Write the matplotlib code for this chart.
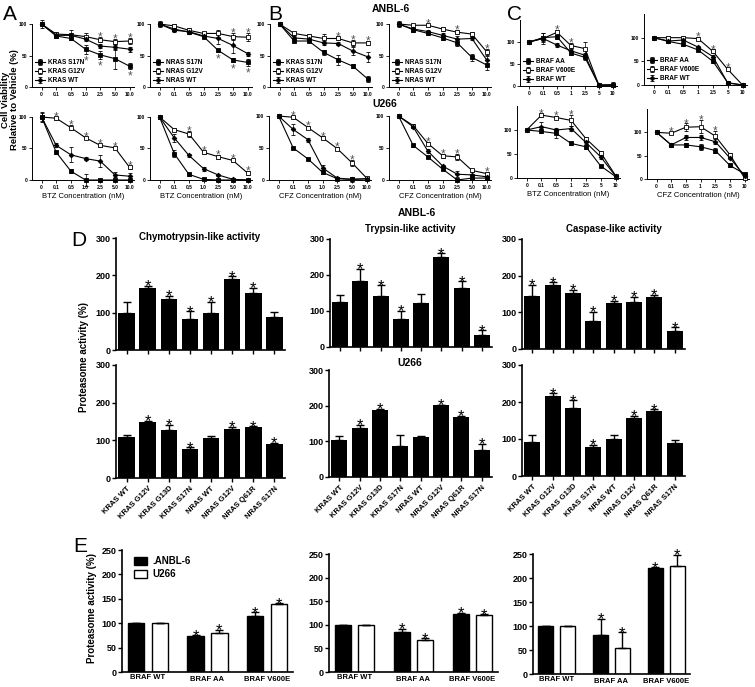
import matplotlib
matplotlib.use('Agg')
import matplotlib.pyplot as plt

plt.rcParams['font.family'] = ['Liberation Sans', 'DejaVu Sans']
plt.rcParams['font.weight'] = 'bold'

# ---- line plot data (cell viability, % of vehicle) ----
ras_conc = ['0', '0.1', '0.5', '1.0', '2.5', '5.0', '10.0']
braf_conc = ['0', '0.1', '0.5', '1', '2.5', '5', '10']
kras_names = ['KRAS S17N', 'KRAS G12V', 'KRAS WT']
nras_names = ['NRAS S17N', 'NRAS G12V', 'NRAS WT']
braf_names = ['BRAF AA', 'BRAF V600E', 'BRAF WT']

# ANBL-6, BTZ, KRAS
a_k_s17n = [100, 81, 77, 60, 51, 45, 33]
a_k_g12v = [100, 84, 83, 80, 75, 72, 73]
a_k_wt = [100, 82, 82, 76, 65, 63, 60]
a_k_s17n_err = [6, 3, 3, 7, 6, 16, 5]
a_k_g12v_err = [3, 4, 8, 5, 4, 4, 5]
a_k_wt_err = [3, 3, 3, 3, 3, 4, 4]
# ANBL-6, BTZ, NRAS
a_n_s17n = [100, 92, 87, 80, 58, 43, 39]
a_n_g12v = [100, 97, 90, 85, 85, 80, 79]
a_n_wt = [100, 90, 88, 81, 77, 66, 53]
a_n_s17n_err = [3, 3, 3, 3, 2, 3, 6]
a_n_g12v_err = [4, 3, 3, 3, 5, 5, 6]
a_n_wt_err = [3, 3, 3, 4, 8, 12, 3]
# ANBL-6, CFZ, KRAS
b_k_s17n = [100, 73, 73, 55, 43, 33, 13]
b_k_g12v = [100, 85, 81, 77, 77, 70, 70]
b_k_wt = [100, 78, 76, 70, 69, 57, 48]
b_k_s17n_err = [2, 2, 2, 4, 8, 3, 5]
b_k_g12v_err = [3, 3, 3, 7, 3, 5, 3]
b_k_wt_err = [3, 3, 3, 3, 3, 6, 8]
# ANBL-6, CFZ, NRAS
b_n_s17n = [100, 91, 85, 78, 70, 47, 35]
b_n_g12v = [100, 98, 98, 92, 87, 84, 56]
b_n_wt = [100, 92, 88, 82, 76, 77, 43]
b_n_s17n_err = [4, 3, 3, 3, 5, 5, 8]
b_n_g12v_err = [2, 2, 2, 3, 3, 3, 5]
b_n_wt_err = [3, 3, 3, 4, 5, 3, 6]
# ANBL-6, BTZ / CFZ, BRAF
c_bt_aa = [100, 110, 112, 75, 65, 2, 2]
c_bt_v600e = [100, 108, 122, 92, 85, 2, 2]
c_bt_wt = [100, 108, 93, 80, 70, 2, 3]
c_bt_aa_err = [2, 10, 5, 5, 5, 2, 3]
c_bt_v600e_err = [2, 12, 5, 5, 15, 2, 2]
c_bt_wt_err = [2, 5, 5, 4, 5, 2, 6]
c_cf_aa = [100, 92, 86, 74, 50, 5, 0]
c_cf_v600e = [100, 100, 100, 98, 71, 33, 0]
c_cf_wt = [100, 93, 95, 80, 60, 4, 0]
c_cf_aa_err = [2, 3, 3, 3, 4, 3, 1]
c_cf_v600e_err = [2, 3, 3, 3, 4, 3, 1]
c_cf_wt_err = [2, 3, 3, 3, 4, 3, 1]

# U266, BTZ, KRAS
u_a_k_s17n = [100, 44, 14, 0, 0, 0, 0]
u_a_k_g12v = [100, 98, 83, 67, 55, 51, 20]
u_a_k_wt = [100, 55, 40, 34, 30, 8, 6]
u_a_k_s17n_err = [8, 2, 3, 9, 1, 1, 1]
u_a_k_g12v_err = [3, 2, 4, 2, 2, 2, 3]
u_a_k_wt_err = [6, 3, 12, 2, 9, 4, 5]
# U266, BTZ, NRAS
u_a_n_s17n = [100, 42, 9, 1, 0, 0, 0]
u_a_n_g12v = [100, 80, 73, 44, 37, 31, 11]
u_a_n_wt = [100, 67, 39, 18, 8, 1, 0]
u_a_n_s17n_err = [2, 5, 2, 1, 1, 1, 1]
u_a_n_g12v_err = [2, 2, 5, 2, 3, 2, 3]
u_a_n_wt_err = [2, 6, 2, 3, 1, 1, 1]
# U266, CFZ, KRAS
u_b_k_s17n = [100, 50, 33, 12, 2, 1, 2]
u_b_k_g12v = [100, 98, 82, 66, 49, 27, 3]
u_b_k_wt = [100, 79, 63, 19, 3, 1, 2]
u_b_k_s17n_err = [2, 2, 2, 3, 1, 4, 1]
u_b_k_g12v_err = [2, 2, 2, 2, 2, 5, 2]
u_b_k_wt_err = [2, 9, 3, 5, 2, 1, 1]
# U266, CFZ, NRAS
u_b_n_s17n = [100, 54, 36, 17, 0, 3, 3]
u_b_n_g12v = [100, 85, 57, 38, 36, 15, 10]
u_b_n_wt = [100, 83, 45, 22, 9, 8, 5]
u_b_n_s17n_err = [1, 2, 2, 2, 1, 1, 1]
u_b_n_g12v_err = [2, 2, 3, 3, 5, 2, 3]
u_b_n_wt_err = [2, 2, 3, 2, 5, 2, 2]
# U266, BTZ / CFZ, BRAF
u_c_bt_aa = [100, 97, 93, 72, 65, 25, 3]
u_c_bt_v600e = [100, 131, 126, 120, 82, 53, 5]
u_c_bt_wt = [100, 107, 100, 103, 74, 44, 4]
u_c_bt_aa_err = [2, 3, 10, 3, 4, 2, 1]
u_c_bt_v600e_err = [2, 3, 3, 12, 3, 3, 1]
u_c_bt_wt_err = [2, 10, 5, 5, 4, 4, 1]
u_c_cf_aa = [100, 73, 73, 69, 61, 29, 11]
u_c_cf_v600e = [100, 98, 111, 112, 92, 52, 2]
u_c_cf_wt = [100, 73, 89, 89, 80, 45, 7]
u_c_cf_aa_err = [1, 4, 4, 6, 6, 4, 1]
u_c_cf_v600e_err = [1, 2, 8, 14, 10, 3, 1]
u_c_cf_wt_err = [1, 4, 5, 5, 5, 3, 1]

# ---- proteasome activity bars (panel D) ----
ras_lines = ['KRAS WT', 'KRAS G12V', 'KRAS G13D', 'KRAS S17N',
             'NRAS WT', 'NRAS G12V', 'NRAS Q61R', 'NRAS S17N']
chymo_anbl = [100, 167, 136, 82, 98, 190, 154, 88]
chymo_anbl_err = [29, 5, 9, 22, 31, 7, 12, 14]
tryp_anbl = [125, 183, 141, 79, 123, 249, 165, 34]
tryp_anbl_err = [19, 35, 30, 21, 25, 11, 18, 12]
casp_anbl = [145, 175, 153, 76, 125, 129, 142, 48]
casp_anbl_err = [30, 7, 9, 26, 6, 14, 6, 11]
chymo_u266 = [110, 150, 127, 78, 105, 131, 135, 89]
chymo_u266_err = [4, 2, 14, 4, 7, 5, 2, 4]
tryp_u266 = [104, 137, 189, 88, 112, 201, 168, 77]
tryp_u266_err = [10, 9, 2, 30, 4, 2, 4, 16]
casp_u266 = [93, 217, 185, 78, 99, 158, 175, 88]
casp_u266_err = [19, 7, 20, 7, 12, 4, 5, 9]

# ---- panel E ----
braf_lines = ['BRAF WT', 'BRAF AA', 'BRAF V600E']
e_chymo_anbl = [100, 73, 115]
e_chymo_anbl_err = [0, 2, 7]
e_chymo_u266 = [100, 79, 139]
e_chymo_u266_err = [0, 7, 2]
e_tryp_anbl = [100, 84, 122]
e_tryp_anbl_err = [0, 8, 3]
e_tryp_u266 = [99, 68, 121]
e_tryp_u266_err = [0, 3, 1]
e_casp_anbl = [100, 82, 220]
e_casp_anbl_err = [0, 33, 2]
e_casp_u266 = [100, 55, 225]
e_casp_u266_err = [0, 32, 23]

W, H = 755, 687
fig = plt.figure(figsize=(W / 100, H / 100), dpi=100)


def add_ax(left, right, top, bottom):
    ax = fig.add_axes([left / W, 1 - bottom / H, (right - left) / W, (bottom - top) / H])
    ax.spines['top'].set_visible(False)
    ax.spines['right'].set_visible(False)
    return ax


def ftext(x, y, s, **kw):
    fig.text(x / W, 1 - y / H, s, **kw)


def line_panel(rect, series, names, ticks, ymax, up=(), down=(), xlabel=None, legend=False):
    ax = add_ax(*rect)
    x = list(range(len(ticks)))
    marks = [('s', 'black', 3.0), ('s', 'white', 3.0), ('D', 'black', 2.4)]
    for (vals, errs), nm, (m, fc, ms) in zip(series, names, marks):
        ax.errorbar(x, vals, yerr=errs, color='black', lw=0.8, marker=m, ms=ms,
                    mfc=fc, mec='black', mew=0.6, elinewidth=0.5, capsize=1.2,
                    capthick=0.5, label=nm, clip_on=False, zorder=3)
    for i in up:
        top = max(v[i] + e[i] for v, e in series)
        ax.annotate('*', (i, top), xytext=(0, -2.5), textcoords='offset points',
                    ha='center', va='baseline', fontsize=8.5, color='#555555',
                    fontweight='normal', annotation_clip=False)
    for i in down:
        v, e = series[0]
        ax.annotate('*', (i, v[i] - e[i]), xytext=(0, -7.5), textcoords='offset points',
                    ha='center', va='baseline', fontsize=8.5, color='#555555',
                    fontweight='normal', annotation_clip=False)
    ax.set_xlim(-0.65, 6.3)
    ax.set_ylim(0, ymax)
    ax.set_xticks(x)
    ax.set_xticklabels(ticks)
    ax.set_yticks([0, 50, 100])
    ax.tick_params(labelsize=3.5, length=2, width=0.6, pad=1.5)
    for s in ('left', 'bottom'):
        ax.spines[s].set_linewidth(0.7)
    if xlabel:
        ax.set_xlabel(xlabel, fontsize=5.5, labelpad=2)
    if legend:
        ax.legend(loc='lower left', bbox_to_anchor=(0.0, 0.0), frameon=False,
                  fontsize=4.7, handlelength=1.6, handletextpad=0.4,
                  labelspacing=0.3, borderpad=0.2, borderaxespad=0.2)
    return ax


def bar_panel(rect, vals, errs, stars, labels=False):
    ax = add_ax(*rect)
    x = list(range(len(vals)))
    ax.bar(x, vals, width=0.78, color='black',
           yerr=[[0] * len(vals), errs],
           error_kw=dict(ecolor='black', elinewidth=1, capsize=3, capthick=1))
    for i in stars:
        ax.annotate('*', (i, vals[i] + errs[i]), xytext=(0, -4), textcoords='offset points',
                    ha='center', va='baseline', fontsize=12, fontweight='normal')
    ax.set_xlim(-0.5, 7.5)
    ax.set_ylim(0, 300)
    ax.set_yticks([0, 100, 200, 300])
    ax.set_xticks(x)
    if labels:
        ax.set_xticklabels(ras_lines, rotation=45, ha='right', rotation_mode='anchor',
                           fontsize=5.5)
    else:
        ax.set_xticklabels([])
    ax.tick_params(axis='y', labelsize=6.5, length=3, width=1, pad=1)
    ax.tick_params(axis='x', length=3, width=1, pad=2)
    for s in ('left', 'bottom'):
        ax.spines[s].set_linewidth(1.2)
    return ax


def braf_panel(rect, black, black_err, white, white_err, legend=False):
    ax = add_ax(*rect)
    x = list(range(len(black)))
    xb = [i - 0.2 for i in x]
    xw = [i + 0.2 for i in x]
    ax.bar(xb, black, width=0.27, color='black', edgecolor='black', lw=1,
           yerr=[[0] * len(black), black_err], label='.ANBL-6',
           error_kw=dict(ecolor='black', elinewidth=1, capsize=3, capthick=1))
    ax.bar(xw, white, width=0.27, color='white', edgecolor='black', lw=1,
           yerr=[[0] * len(white), white_err], label='U266',
           error_kw=dict(ecolor='black', elinewidth=1, capsize=3, capthick=1))
    for i in (1, 2):
        ax.annotate('*', (xb[i], black[i] + black_err[i]), xytext=(0, -4),
                    textcoords='offset points', ha='center', va='baseline',
                    fontsize=12, fontweight='normal')
        ax.annotate('*', (xw[i], white[i] + white_err[i]), xytext=(0, -4),
                    textcoords='offset points', ha='center', va='baseline',
                    fontsize=12, fontweight='normal', annotation_clip=False)
    ax.set_xlim(-0.43, 2.43)
    ax.set_ylim(0, 250)
    ax.set_yticks([0, 50, 100, 150, 200, 250])
    ax.set_xticks(x)
    ax.set_xticklabels(braf_lines, fontsize=5.5)
    ax.tick_params(axis='y', labelsize=6.5, length=3, width=1, pad=1)
    ax.tick_params(axis='x', length=0, pad=3)
    ax.xaxis.get_major_ticks()[0].set_pad(1.5)
    for s in ('left', 'bottom'):
        ax.spines[s].set_linewidth(1.2)
    if legend:
        ax.legend(loc='upper left', bbox_to_anchor=(0.02, 1.02), frameon=False,
                  fontsize=7, handlelength=1.3, handleheight=0.8,
                  handletextpad=0.6, labelspacing=0.3)
    return ax


# panel A/B/C, ANBL-6 row
line_panel((32, 134, 24, 87), [(a_k_s17n, a_k_s17n_err), (a_k_g12v, a_k_g12v_err), (a_k_wt, a_k_wt_err)],
           kras_names, ras_conc, 100, up=(4, 5, 6), down=(3, 4, 6), legend=True)
line_panel((150, 252, 24, 87), [(a_n_s17n, a_n_s17n_err), (a_n_g12v, a_n_g12v_err), (a_n_wt, a_n_wt_err)],
           nras_names, ras_conc, 100, up=(5, 6), down=(4, 5, 6), legend=True)
line_panel((270, 372, 24, 87), [(b_k_s17n, b_k_s17n_err), (b_k_g12v, b_k_g12v_err), (b_k_wt, b_k_wt_err)],
           kras_names, ras_conc, 100, up=(4, 5, 6), legend=True)
line_panel((389, 491, 24, 87), [(b_n_s17n, b_n_s17n_err), (b_n_g12v, b_n_g12v_err), (b_n_wt, b_n_wt_err)],
           nras_names, ras_conc, 100, up=(2, 4, 6), legend=True)
line_panel((520, 617, 20, 86), [(c_bt_aa, c_bt_aa_err), (c_bt_v600e, c_bt_v600e_err), (c_bt_wt, c_bt_wt_err)],
           braf_names, braf_conc, 150, up=(2, 3), legend=True)
line_panel((644, 747, 14, 85), [(c_cf_aa, c_cf_aa_err), (c_cf_v600e, c_cf_v600e_err), (c_cf_wt, c_cf_wt_err)],
           braf_names, braf_conc, 150, up=(3, 4, 5), legend=True)

# U266 row
line_panel((32, 134, 117, 180), [(u_a_k_s17n, u_a_k_s17n_err), (u_a_k_g12v, u_a_k_g12v_err), (u_a_k_wt, u_a_k_wt_err)],
           kras_names, ras_conc, 100, up=(1, 2, 3, 4, 5, 6), xlabel='BTZ Concentration (nM)')
line_panel((150, 252, 117, 180), [(u_a_n_s17n, u_a_n_s17n_err), (u_a_n_g12v, u_a_n_g12v_err), (u_a_n_wt, u_a_n_wt_err)],
           nras_names, ras_conc, 100, up=(2, 3, 4, 5, 6), xlabel='BTZ Concentration (nM)')
line_panel((269, 371, 116, 180), [(u_b_k_s17n, u_b_k_s17n_err), (u_b_k_g12v, u_b_k_g12v_err), (u_b_k_wt, u_b_k_wt_err)],
           kras_names, ras_conc, 100, up=(1, 2, 3, 4, 5), xlabel='CFZ Concentration (nM)')
line_panel((389, 491, 116, 180), [(u_b_n_s17n, u_b_n_s17n_err), (u_b_n_g12v, u_b_n_g12v_err), (u_b_n_wt, u_b_n_wt_err)],
           nras_names, ras_conc, 100, up=(2, 3, 4, 6), xlabel='CFZ Concentration (nM)')
line_panel((517, 620, 106, 178), [(u_c_bt_aa, u_c_bt_aa_err), (u_c_bt_v600e, u_c_bt_v600e_err), (u_c_bt_wt, u_c_bt_wt_err)],
           braf_names, braf_conc, 150, up=(1, 2, 3), xlabel='BTZ Concentration (nM)')
line_panel((647, 749, 109, 179), [(u_c_cf_aa, u_c_cf_aa_err), (u_c_cf_v600e, u_c_cf_v600e_err), (u_c_cf_wt, u_c_cf_wt_err)],
           braf_names, braf_conc, 150, up=(1, 2, 3, 4), xlabel='CFZ Concentration (nM)')

# panel D
bar_panel((116, 285, 238, 350), chymo_anbl, chymo_anbl_err, [1, 2, 3, 4, 5, 6])
bar_panel((330, 492, 239, 347), tryp_anbl, tryp_anbl_err, [1, 2, 3, 5, 6, 7])
bar_panel((522, 685, 239, 349), casp_anbl, casp_anbl_err, [0, 1, 2, 3, 4, 5, 6, 7])
bar_panel((116, 285, 365, 478), chymo_u266, chymo_u266_err, [1, 2, 3, 5, 6, 7], labels=True)
bar_panel((329, 492, 370, 477), tryp_u266, tryp_u266_err, [1, 2, 5, 6, 7], labels=True)
bar_panel((522, 685, 365, 476), casp_u266, casp_u266_err, [1, 2, 3, 5, 6], labels=True)

# panel E
braf_panel((122, 293, 550, 672), e_chymo_anbl, e_chymo_anbl_err, e_chymo_u266, e_chymo_u266_err, legend=True)
braf_panel((329, 498, 554, 672), e_tryp_anbl, e_tryp_anbl_err, e_tryp_u266, e_tryp_u266_err)
braf_panel((533, 690, 554, 674), e_casp_anbl, e_casp_anbl_err, e_casp_u266, e_casp_u266_err)

# labels
for lx, ly, s in [(10, 14, 'A'), (275, 15, 'B'), (515, 15, 'C'), (79, 241, 'D'), (80, 547, 'E')]:
    ftext(lx, ly, s, fontsize=15, fontweight='normal', ha='center', va='center')
ftext(372, 9, 'ANBL-6', fontsize=7.5, ha='left', va='center')
ftext(372, 104, 'U266', fontsize=7.5, ha='left', va='center')
ftext(417, 213, 'ANBL-6', fontsize=7.5, ha='center', va='center')
ftext(410, 363, 'U266', fontsize=7.5, ha='center', va='center')
ftext(200, 237, 'Chymotrypsin-like activity', fontsize=7, ha='center', va='center')
ftext(410, 229, 'Trypsin-like activity', fontsize=7, ha='center', va='center')
ftext(614, 229, 'Caspase-like activity', fontsize=7, ha='center', va='center')
ftext(10, 100, 'Cell Viability\nRelative to Vehicle (%)', fontsize=6.8, rotation=90,
      ha='center', va='center', multialignment='center', linespacing=1.0)
ftext(84, 357, 'Proteasome activity (%)', fontsize=7, rotation=90, ha='center', va='center')
ftext(92, 608, 'Proteasome activity (%)', fontsize=7, rotation=90, ha='center', va='center')

fig.savefig('out.png', dpi=100)
